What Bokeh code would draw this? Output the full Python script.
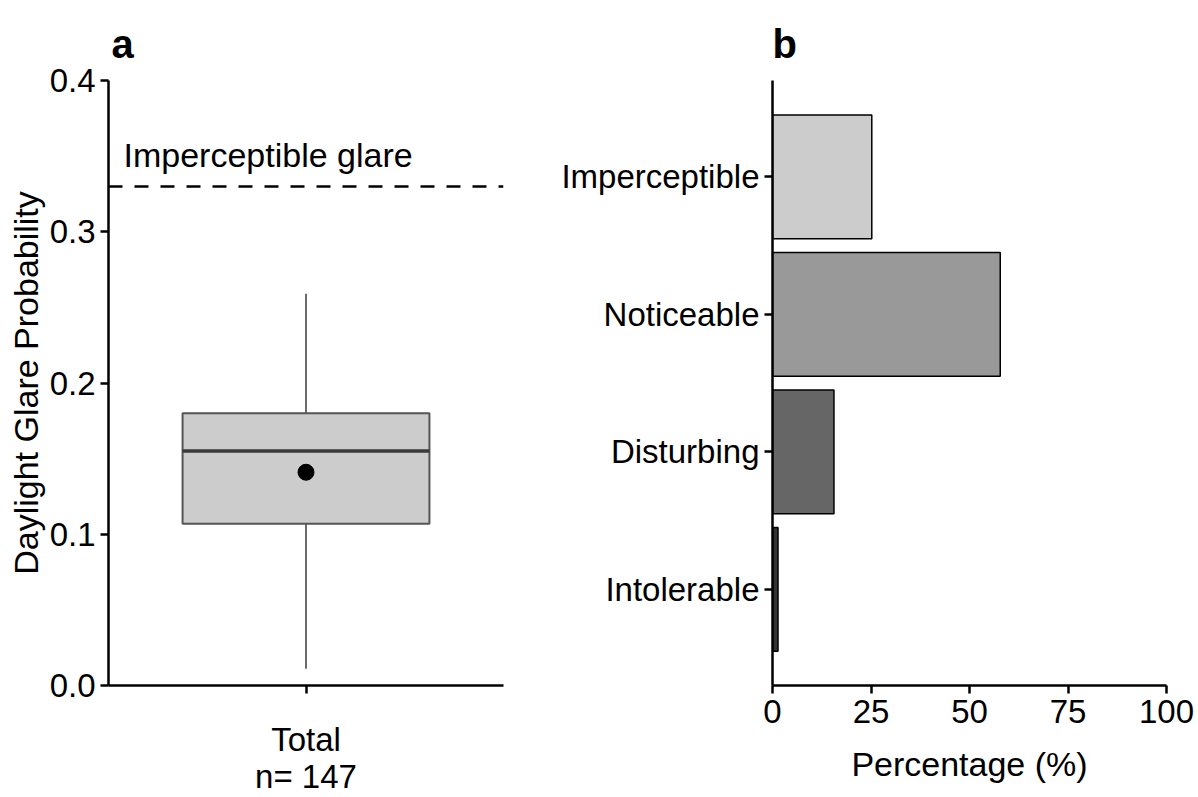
from bokeh.plotting import figure
from bokeh.models import (Range1d, FixedTicker, Span, Label, FactorRange,
                          ColumnDataSource)
from bokeh.layouts import row
from bokeh.embed import file_html
from bokeh.resources import INLINE

# ---------------- data: panel a (box plot of DGP) ----------------
group_name = "Total"
group_pos = [1.0]
n_obs = 147
dgp_lower_whisker = [0.011]
dgp_q1 = [0.107]
dgp_median = [0.155]
dgp_q3 = [0.180]
dgp_upper_whisker = [0.259]
dgp_mean = [0.141]
threshold_value = 0.33
threshold_label = "Imperceptible glare"
y_ticks_a = [0.0, 0.1, 0.2, 0.3, 0.4]
y_tick_labels_a = ["0.0", "0.1", "0.2", "0.3", "0.4"]

# ---------------- data: panel b (perceived glare) ----------------
categories = ["Imperceptible", "Noticeable", "Disturbing", "Intolerable"]
percentages = [25.2, 57.8, 15.6, 1.4]
bar_colors = ["#cccccc", "#999999", "#666666", "#333333"]
x_ticks_b = [0, 25, 50, 75, 100]
x_tick_labels_b = ["0", "25", "50", "75", "100"]

FONT = "Liberation Sans"
TICK_FS = "33px"
TITLE_FS = "34px"
BOX_W = 0.75
CAT_PAD = 0.1


def style_axes(p, panel_tag, tag_offset):
    p.xgrid.visible = False
    p.ygrid.visible = False
    p.outline_line_color = None
    p.background_fill_color = "white"
    p.border_fill_color = "white"
    p.title.text = panel_tag
    p.title.text_font = FONT
    p.title.text_font_size = "40px"
    p.title.text_font_style = "bold"
    p.title.text_color = "black"
    p.title.align = "left"
    p.title.offset = tag_offset
    p.title.standoff = 30
    for ax in (p.xaxis[0], p.yaxis[0]):
        ax.axis_line_color = "black"
        ax.axis_line_width = 2.5
        ax.major_tick_line_color = "black"
        ax.major_tick_line_width = 2.5
        ax.major_tick_out = 8
        ax.major_tick_in = 0
        ax.minor_tick_line_color = None
        ax.major_label_text_font = FONT
        ax.major_label_text_font_size = TICK_FS
        ax.major_label_text_color = "black"
        ax.axis_label_text_font = FONT
        ax.axis_label_text_font_size = TITLE_FS
        ax.axis_label_text_font_style = "normal"
        ax.axis_label_text_color = "black"


# ---------------- panel a ----------------
pa = figure(width=540, height=797,
            x_range=Range1d(0.4, 1.6), y_range=Range1d(0, 0.4),
            output_backend="svg", toolbar_location=None,
            min_border_left=108, min_border_right=37,
            min_border_top=80, min_border_bottom=112)
style_axes(pa, "a", 3)

box_src = ColumnDataSource(dict(
    x=group_pos,
    left=[g - BOX_W / 2 for g in group_pos],
    right=[g + BOX_W / 2 for g in group_pos],
    lw=dgp_lower_whisker, q1=dgp_q1, med=dgp_median, q3=dgp_q3,
    uw=dgp_upper_whisker, mean=dgp_mean))

pa.segment(x0="x", y0="q3", x1="x", y1="uw", source=box_src,
           line_color="#6b6b6b", line_width=2)
pa.segment(x0="x", y0="q1", x1="x", y1="lw", source=box_src,
           line_color="#6b6b6b", line_width=2)
pa.quad(left="left", right="right", bottom="q1", top="q3", source=box_src,
        fill_color="#cccccc", line_color="#555555", line_width=2)
pa.segment(x0="left", y0="med", x1="right", y1="med", source=box_src,
           line_color="#3a3a3a", line_width=3.5)
pa.scatter(x="x", y="mean", source=box_src, size=16,
           fill_color="black", line_color="black")

pa.add_layout(Span(location=threshold_value, dimension="width",
                   line_color="black", line_width=2.5, line_dash="14 12"))
pa.add_layout(Label(x=0.4, y=threshold_value, x_offset=15, y_offset=31,
                    text=threshold_label, text_font=FONT,
                    text_font_size=TITLE_FS, text_color="black",
                    text_baseline="alphabetic", text_align="left"))

pa.yaxis[0].ticker = FixedTicker(ticks=y_ticks_a)
pa.yaxis[0].major_label_overrides = dict(zip(y_ticks_a, y_tick_labels_a))
pa.yaxis[0].major_label_standoff = 5
pa.yaxis[0].axis_label = "Daylight Glare Probability"
pa.yaxis[0].axis_label_standoff = 2

# x tick label: group name with the sample size on a second line
pa.xaxis[0].ticker = FixedTicker(ticks=group_pos)
pa.xaxis[0].major_label_overrides = {
    group_pos[0]: "%s\nn= %d" % (group_name, n_obs)}
pa.xaxis[0].major_label_standoff = 27
pa.xaxis[0].major_label_text_line_height = 1.0

# ---------------- panel b ----------------
pb = figure(width=656, height=797,
            x_range=Range1d(0, 100),
            y_range=FactorRange(factors=categories[::-1],
                                range_padding=2 * CAT_PAD,
                                range_padding_units="absolute"),
            output_backend="svg", toolbar_location=None,
            min_border_left=232, min_border_right=30,
            min_border_top=80, min_border_bottom=112)
style_axes(pb, "b", 0)

bar_src = ColumnDataSource(dict(cat=categories, pct=percentages,
                                color=bar_colors))
pb.hbar(y="cat", left=0, right="pct", height=0.9, source=bar_src,
        fill_color="color", line_color="black", line_width=1.5)

pb.xaxis[0].ticker = FixedTicker(ticks=x_ticks_b)
pb.xaxis[0].major_label_overrides = dict(zip(x_ticks_b, x_tick_labels_b))
pb.xaxis[0].major_label_standoff = 6
pb.xaxis[0].axis_label = "Percentage (%)"
pb.xaxis[0].axis_label_standoff = 19
pb.yaxis[0].major_label_standoff = 5

layout = row(pa, pb)

html = file_html(layout, INLINE)
open("out.html", "w").write(html)
